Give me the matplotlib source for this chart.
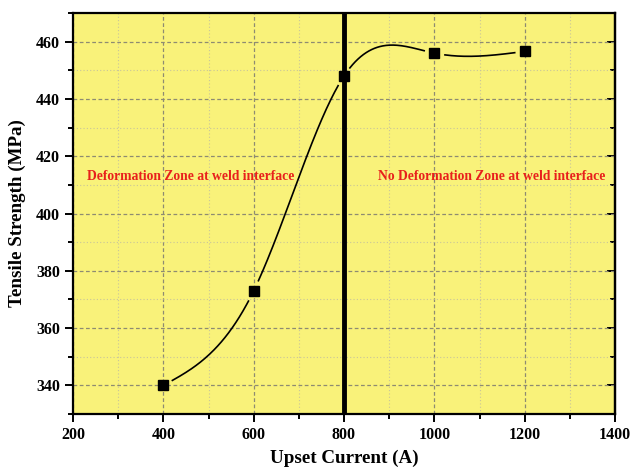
import numpy as np
import matplotlib
matplotlib.use("Agg")
import matplotlib.pyplot as plt
from matplotlib.ticker import MultipleLocator, NullFormatter

upset_current = [400, 600, 800, 1000, 1200]
tensile_strength = [340, 373, 448, 456, 456.6]
boundary_current = 800
left_label = "Deformation Zone at weld interface"
right_label = "No Deformation Zone at weld interface"


def natural_spline(x, y, n=400):
    # plain natural cubic spline, like the smooth line Origin draws
    x = np.asarray(x, float)
    y = np.asarray(y, float)
    k = len(x)
    h = np.diff(x)
    A = np.zeros((k, k))
    b = np.zeros(k)
    A[0, 0] = A[-1, -1] = 1
    for i in range(1, k - 1):
        A[i, i - 1] = h[i - 1]
        A[i, i] = 2 * (h[i - 1] + h[i])
        A[i, i + 1] = h[i]
        b[i] = 6 * ((y[i + 1] - y[i]) / h[i] - (y[i] - y[i - 1]) / h[i - 1])
    m = np.linalg.solve(A, b)
    xs = np.linspace(x[0], x[-1], n)
    idx = np.clip(np.searchsorted(x, xs) - 1, 0, k - 2)
    t = xs - x[idx]
    hi = h[idx]
    a = y[idx]
    c1 = (y[idx + 1] - y[idx]) / hi - hi * (2 * m[idx] + m[idx + 1]) / 6
    c2 = m[idx] / 2
    c3 = (m[idx + 1] - m[idx]) / (6 * hi)
    return xs, a + c1 * t + c2 * t ** 2 + c3 * t ** 3


plt.rcParams['font.family'] = ['Liberation Serif', 'DejaVu Serif']
plt.rcParams['font.weight'] = 'bold'

fig = plt.figure(figsize=(6.31, 4.70), dpi=100)
ax = fig.add_axes([73 / 631, 1 - 414 / 470, 542 / 631, 401 / 470])
ax.set_facecolor('#F9F27A')

ax.set_xlim(200, 1400)
ax.set_ylim(330, 470)
ax.xaxis.set_major_locator(MultipleLocator(200))
ax.xaxis.set_minor_locator(MultipleLocator(100))
ax.yaxis.set_major_locator(MultipleLocator(20))
ax.yaxis.set_minor_locator(MultipleLocator(10))

ax.grid(which='major', color='#8e8b72', linestyle=(0, (3, 2)), linewidth=0.9)
ax.grid(which='minor', color='#c9c59a', linestyle=(0, (1, 2)), linewidth=0.8)
ax.set_axisbelow(True)

ax.axvline(boundary_current, color='black', linewidth=3.5, zorder=3)

# smooth curve with small gaps around the symbols
xs, ys = natural_spline(upset_current, tensile_strength)
pts = ax.transData.transform(np.column_stack([xs, ys]))
mk = ax.transData.transform(np.column_stack([upset_current, tensile_strength]))
dist = np.min(np.hypot(pts[:, None, 0] - mk[None, :, 0], pts[:, None, 1] - mk[None, :, 1]), axis=1)
ys_gap = np.where(dist < 10, np.nan, ys)
ax.plot(xs, ys_gap, color='black', linewidth=1.2, zorder=4)
ax.plot(upset_current, tensile_strength, 's', color='black', markersize=7.5, zorder=5)

ax.text(231, 413, left_label, color='#e8201c', fontsize=9.8, fontweight='bold', va='center')
ax.text(875, 413, right_label, color='#e8201c', fontsize=9.8, fontweight='bold', va='center')

for side in ax.spines.values():
    side.set_linewidth(1.6)

ax.tick_params(which='both', direction='out', width=1.4, labelsize=11.5)
ax.tick_params(which='major', length=6)
ax.tick_params(which='minor', length=3.5)

# right side ticks point inwards
right = ax.secondary_yaxis('right')
right.yaxis.set_major_locator(MultipleLocator(20))
right.yaxis.set_minor_locator(MultipleLocator(10))
right.yaxis.set_major_formatter(NullFormatter())
right.tick_params(which='both', direction='in', width=1.4)
right.tick_params(which='major', length=6)
right.tick_params(which='minor', length=3.5)
right.spines['right'].set_linewidth(1.6)

ax.set_xlabel("Upset Current (A)", fontsize=13.7, fontweight='bold', labelpad=5)
ax.set_ylabel("Tensile Strength (MPa)", fontsize=13.7, fontweight='bold', labelpad=7)

fig.savefig("out.png", dpi=100)
